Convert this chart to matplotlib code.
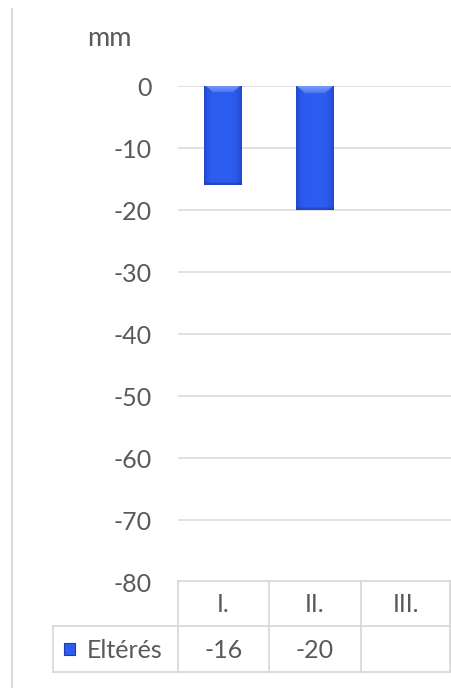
import matplotlib
matplotlib.use("Agg")
import matplotlib.pyplot as plt
import numpy as np
from matplotlib.lines import Line2D
from matplotlib.patches import Rectangle
import matplotlib.colors as mcolors

categories = ["I.", "II.", "III."]
values = [-16, -20, None]
series_name = "Eltérés"
unit = "mm"
yticks = [0, -10, -20, -30, -40, -50, -60, -70, -80]

W, H = 452, 688
fig = plt.figure(figsize=(W / 100, H / 100), dpi=100)
plt.rcParams['font.family'] = ['Lato', 'DejaVu Sans']
txt_col = '#595959'
grid_col = '#d9d9d9'
fs = 18

def fx(px):
    return px / W

def fy(py):
    return 1 - py / H

ax_left, ax_right, ax_top, ax_bot = 177.5, 452, 86, 582
ax = fig.add_axes([fx(ax_left), fy(ax_bot), fx(ax_right - ax_left), (ax_bot - ax_top) / H])
for s in ax.spines.values():
    s.set_visible(False)
ax.set_xticks([])
ax.set_yticks(yticks)
ax.set_yticklabels([str(t) for t in yticks], color=txt_col, fontsize=fs)
ax.tick_params(axis='y', length=0, pad=18.5)
for t in yticks:
    if t > -80:
        ax.axhline(t, color=grid_col, lw=1.1, zorder=0)

# bars with gradient
base = np.array(mcolors.to_rgb('#2d5cf0'))
dark = np.array(mcolors.to_rgb('#1a38b0'))
light = np.array(mcolors.to_rgb('#9ab8fc'))
bw = 0.41
xs = np.arange(len(categories)) + 0.5
for x, v in zip(xs, values):
    if v is None:
        continue
    ax.bar(x, v, width=bw, color='#2d5cf0', edgecolor='none', zorder=2)
    hpx = abs(v) * 6.2
    ny = int(round(hpx)) * 2
    nx = 80
    u = np.linspace(-1, 1, nx)
    hx = np.abs(u) ** 5
    img = np.zeros((ny, nx, 3))
    img[:] = base[None, None, :] * (1 - hx[None, :, None] * 0.6) + dark[None, None, :] * (hx[None, :, None] * 0.6)
    # top bevel highlight (trapezoid)
    top_rows = 14
    for i in range(top_rows):
        f = 1 - 0.6 * i / top_rows
        inset = int(i * 1.2) + 3
        sl = slice(inset, nx - inset)
        img[i, sl] = img[i, sl] * (1 - 0.7 * f) + light[None, :] * 0.7 * f
    # bottom dark edge
    for i in range(ny - 5, ny):
        img[i] = img[i] * 0.45 + dark[None, :] * 0.55
    ax.imshow(img, extent=[x - bw / 2, x + bw / 2, v, 0], aspect='auto', zorder=3,
              interpolation='bilinear')

ax.set_xlim(0, len(categories))
ax.set_ylim(-80, 0)
ax.set_aspect('auto')

# outer frame left line
fig.add_artist(Line2D([fx(11.5), fx(11.5)], [fy(9), fy(688)], color=grid_col, lw=1.5))

# unit label
fig.text(fx(109), fy(39), unit, ha='center', va='center', color=txt_col, fontsize=19.5)

# data table
col_w = (ax_right - ax_left) / len(categories)
row_top, row_mid, row_bot = 581, 626, 672
leg_left = 53.5
lc = grid_col
lw = 1.3
fig.add_artist(Line2D([fx(ax_left), fx(W)], [fy(row_top)] * 2, color=lc, lw=lw))
fig.add_artist(Line2D([fx(leg_left), fx(W)], [fy(row_mid)] * 2, color=lc, lw=lw))
fig.add_artist(Line2D([fx(leg_left), fx(W)], [fy(row_bot)] * 2, color=lc, lw=lw))
fig.add_artist(Line2D([fx(leg_left)] * 2, [fy(row_mid), fy(row_bot)], color=lc, lw=lw))
for i in range(len(categories) + 1):
    xb = ax_left + i * col_w
    if i == len(categories):
        xb = 450.5
    fig.add_artist(Line2D([fx(xb)] * 2, [fy(row_top), fy(row_bot)], color=lc, lw=lw))
for i, (c, v) in enumerate(zip(categories, values)):
    cx = ax_left + (i + 0.5) * col_w
    fig.text(fx(cx), fy((row_top + row_mid) / 2 + 1), c, ha='center', va='center', color=txt_col, fontsize=fs)
    if v is not None:
        fig.text(fx(cx), fy((row_mid + row_bot) / 2 + 1), str(v), ha='center', va='center', color=txt_col, fontsize=fs)

# legend key
fig.add_artist(Rectangle((fx(64), fy(655)), fx(11), 12 / H, facecolor='#2d5cf0', edgecolor='#1c3cb8', lw=0.8))
fig.text(fx(87), fy((row_mid + row_bot) / 2 + 1), series_name, ha='left', va='center', color=txt_col, fontsize=fs)

fig.savefig('out.png', dpi=100)
